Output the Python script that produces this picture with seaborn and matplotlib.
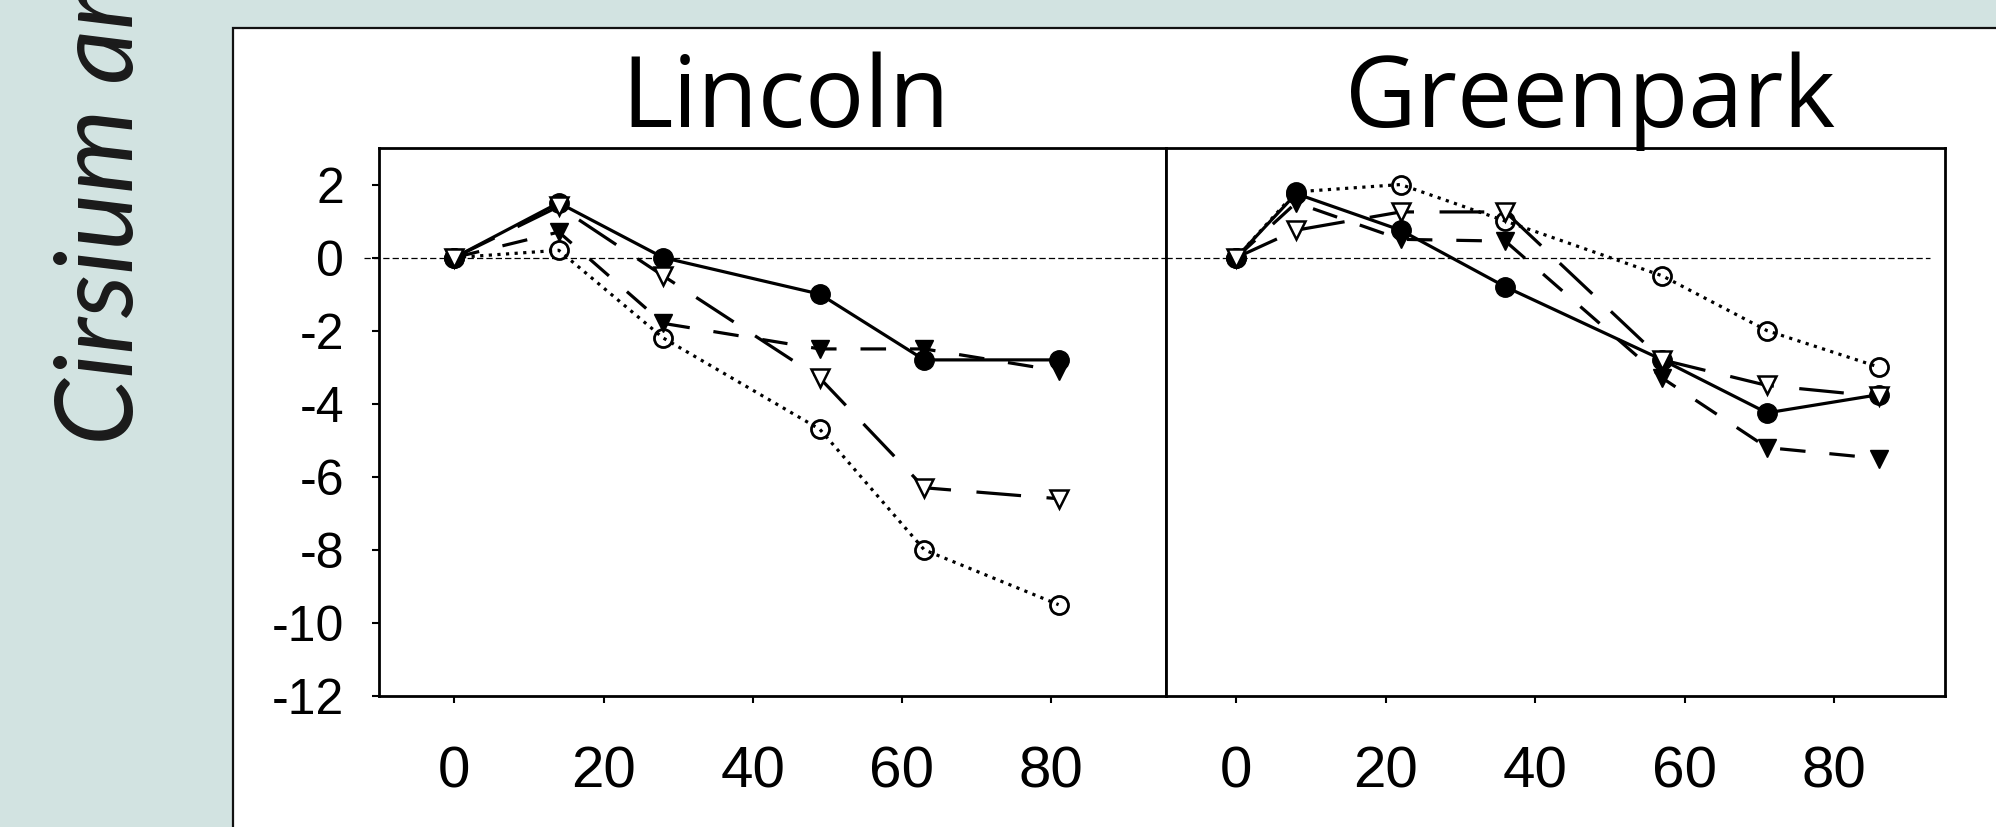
import matplotlib
matplotlib.use("Agg")
import matplotlib.pyplot as plt
from matplotlib.patches import Rectangle
import seaborn as sns
import pandas as pd

# ---------------- data ----------------
sites = ["Lincoln", "Greenpark"]
lincoln_x = [0, 14, 28, 49, 63, 81]
lincoln_filled_circle = [0.0, 1.5, 0.0, -1.0, -2.8, -2.8]
lincoln_filled_triangle = [0.0, 0.7, -1.8, -2.5, -2.5, -3.1]
lincoln_open_triangle = [0.0, 1.4, -0.5, -3.3, -6.3, -6.6]
lincoln_open_circle = [0.0, 0.2, -2.2, -4.7, -8.0, -9.5]

greenpark_x = [0, 8, 22, 36, 57, 71, 86]
greenpark_filled_circle = [0.0, 1.75, 0.75, -0.8, -2.8, -4.25, -3.75]
greenpark_filled_triangle = [0.0, 1.5, 0.5, 0.45, -3.3, -5.2, -5.5]
greenpark_open_triangle = [0.0, 0.75, 1.25, 1.25, -2.8, -3.5, -3.8]
greenpark_open_circle = [0.0, 1.8, 2.0, 1.0, -0.5, -2.0, -3.0]

x_ticks = [0, 20, 40, 60, 80]
y_ticks = [2, 0, -2, -4, -6, -8, -10, -12]
y_tick_labels = ["2", "0", "-2", "-4", "-6", "-8", "-10", "-12"]
ylabel_text = "Cirsium arvense"

series_names = ["filled_circle", "filled_triangle", "open_circle", "open_triangle"]
data = {
    "Lincoln": (lincoln_x, [lincoln_filled_circle, lincoln_filled_triangle,
                            lincoln_open_circle, lincoln_open_triangle]),
    "Greenpark": (greenpark_x, [greenpark_filled_circle, greenpark_filled_triangle,
                                greenpark_open_circle, greenpark_open_triangle]),
}

# ---------------- style ----------------
sns.set_style("ticks")
plt.rcParams["font.family"] = ["Liberation Sans", "DejaVu Sans"]
plt.rcParams["text.color"] = "black"
plt.rcParams["xtick.color"] = "black"
plt.rcParams["ytick.color"] = "black"
plt.rcParams["xtick.labelcolor"] = "black"
plt.rcParams["ytick.labelcolor"] = "black"

W, H = 1996, 827
fig = plt.figure(figsize=(W / 100, H / 100), dpi=100)
bg = "#d2e3e1"
fig.patch.set_facecolor(bg)

# white framed panel (behind the axes)
fig.patches.append(Rectangle((233 / W, -0.05), 1.2, (1 - 28 / H) + 0.05,
                             transform=fig.transFigure, facecolor="white",
                             edgecolor="#111111", lw=1.6, zorder=-5))

LW = 2.3
styles = {
    "filled_circle": dict(marker="o", markersize=14, markerfacecolor="black",
                          markeredgecolor="black", markeredgewidth=1.0,
                          linestyle="-", zorder=3),
    "filled_triangle": dict(marker="v", markersize=13, markerfacecolor="black",
                            markeredgecolor="black", markeredgewidth=1.0,
                            linestyle=(0, (8, 7.5)), zorder=4),
    "open_circle": dict(marker="o", markersize=13, markerfacecolor="none",
                        markeredgecolor="black", markeredgewidth=2.0,
                        linestyle=(0, (1, 1.7)), zorder=5),
    "open_triangle": dict(marker="v", markersize=13, markerfacecolor="white",
                          markeredgecolor="black", markeredgewidth=1.8,
                          linestyle=(0, (14, 8)), zorder=6),
}

bottom = 1 - 696 / H
height = (696 - 148) / H
ax_left = fig.add_axes([379 / W, bottom, (1166 - 379) / W, height])
ax_right = fig.add_axes([1166 / W, bottom, (1945 - 1166) / W, height])
axes = {"Lincoln": ax_left, "Greenpark": ax_right}
xlims = {"Lincoln": (-10.1, 95.4), "Greenpark": (-9.4, 94.8)}

for site in sites:
    ax = axes[site]
    xs, ys_list = data[site]
    for name, ys in zip(series_names, ys_list):
        df = pd.DataFrame({"x": xs, "y": ys})
        sns.lineplot(data=df, x="x", y="y", ax=ax, color="black", lw=LW,
                     sort=False, estimator=None, **styles[name])
    ax.set_xlim(*xlims[site])
    ax.set_ylim(-12, 3)
    ax.set_xlabel("")
    ax.set_ylabel("")
    ax.set_xticks(x_ticks)
    ax.set_xticklabels([str(t) for t in x_ticks],
                       fontfamily=["Liberation Sans Narrow", "Liberation Sans"],
                       fontsize=42, color="black")
    ax.tick_params(axis="x", direction="out", length=5, width=1.5, pad=31,
                   colors="black")
    for sp in ax.spines.values():
        sp.set_visible(True)
        sp.set_linewidth(2.0)
        sp.set_color("black")
    ax.set_facecolor("white")

ax_left.set_yticks(y_ticks)
ax_left.set_yticklabels(y_tick_labels, fontsize=36, color="black")
ax_left.tick_params(axis="y", direction="out", length=5, width=1.5, pad=20,
                    colors="black")
ax_right.set_yticks([])

# zero reference lines
ax_left.axhline(0, xmin=-15 / 787, xmax=1.0, color="black", lw=0.9,
                linestyle=(0, (5, 2.5)), clip_on=False, zorder=1)
ax_right.axhline(0, xmin=0.0, xmax=(1930 - 1166) / 779, color="black", lw=0.9,
                 linestyle=(0, (5, 2.5)), clip_on=False, zorder=1)

# titles
fig.text(786 / W, 1 - 127 / H, "Lincoln", ha="center", va="baseline",
         fontsize=71, fontfamily=["Open Sans", "DejaVu Sans"], color="black", zorder=10)
fig.text(1590 / W, 1 - 127 / H, "Greenpark", ha="center", va="baseline",
         fontsize=71, fontfamily=["Open Sans", "DejaVu Sans"], color="black", zorder=10)

# rotated y label (cut off by the figure edge, as in the original)
fig.text(133 / W, 1 - 445 / H, ylabel_text, rotation=90, rotation_mode="anchor",
         ha="left", va="baseline", fontsize=77, fontstyle="italic",
         fontfamily=["Lato", "DejaVu Sans"], color="#1a1a1a")

fig.savefig("out.png", dpi=100, facecolor=fig.get_facecolor())
